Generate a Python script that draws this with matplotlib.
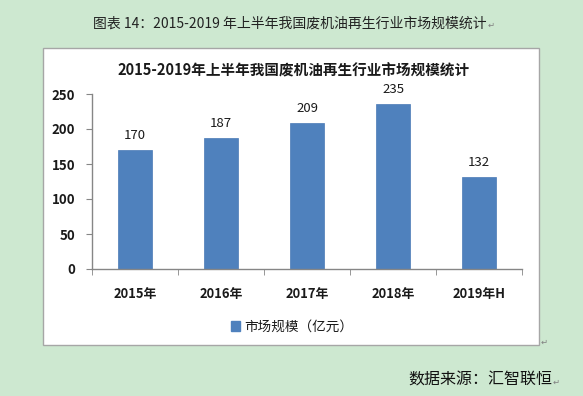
import matplotlib
matplotlib.use("Agg")
import matplotlib.pyplot as plt
from matplotlib.patches import Rectangle, Patch

plt.rcParams['font.family'] = ['Noto Sans CJK SC', 'DejaVu Sans']

categories = ["2015年", "2016年", "2017年", "2018年", "2019年H"]
values = [170, 187, 209, 235, 132]
series_name = "市场规模（亿元）"
chart_title = "2015-2019年上半年我国废机油再生行业市场规模统计"
caption = "图表 14：2015-2019 年上半年我国废机油再生行业市场规模统计"
source = "数据来源：汇智联恒"
yticks = [0, 50, 100, 150, 200, 250]

W, H = 583, 396
fig = plt.figure(figsize=(W / 100, H / 100), dpi=100)
fig.patch.set_facecolor('#cde8d0')

# white chart box
box = Rectangle((43 / W, 1 - 345 / H), 496 / W, 297 / H, transform=fig.transFigure,
                facecolor='white', edgecolor='#a6a6a6', linewidth=1.0, zorder=-5)
fig.patches.append(box)

ax = fig.add_axes([92 / W, 1 - 269 / H, 430 / W, 175 / H])
ax.set_zorder(2)
ax.set_facecolor('white')
x = list(range(len(categories)))
bars = ax.bar(x, values, width=0.4, color='#4f81bd', edgecolor='#4a7ab5', linewidth=0.5, zorder=2)
for xi, v in zip(x, values):
    ax.annotate(str(v), (xi, v), xytext=(0, 10.5), textcoords='offset points',
                ha='center', va='center', fontsize=9.5, color='#1a1a1a')

ax.set_xlim(-0.5, len(categories) - 0.5)
ax.set_ylim(0, 250)
ax.set_yticks(yticks)
ax.set_yticklabels([str(t) for t in yticks], fontsize=9.5, fontweight='bold', color='#1a1a1a')
ax.set_xticks(x)
ax.set_xticklabels(categories, fontsize=9.3, fontweight='bold', color='#1a1a1a')
ax.set_xticks([i - 0.5 for i in range(len(categories) + 1)], minor=True)
ax.tick_params(axis='x', which='major', length=0, pad=13)
ax.tick_params(axis='x', which='minor', length=4, color='#868686', direction='out')
ax.tick_params(axis='y', which='major', length=4, color='#868686', direction='out', pad=8)
for s in ['top', 'right']:
    ax.spines[s].set_visible(False)
for s in ['left', 'bottom']:
    ax.spines[s].set_color('#868686')
    ax.spines[s].set_linewidth(1.0)

fig.text(0.503, 1 - 70 / H, chart_title, ha='center', va='center', fontsize=10.5,
         fontweight='bold', color='#1a1a1a')

fig.legend(handles=[Patch(facecolor='#4f81bd', edgecolor='#4f81bd')], labels=[series_name],
           loc='center', bbox_to_anchor=(292 / W, 1 - 327 / H), frameon=False, fontsize=9.8,
           handlelength=0.7, handleheight=0.7, handletextpad=0.3, labelcolor='#1a1a1a')

fig.text(290 / W, 1 - 24 / H, caption, ha='center', va='center', fontsize=10, color='#222222')
fig.text(488 / W, 1 - 25 / H, "↵", ha='left', va='center', fontsize=6, color='#808080')
fig.text(541 / W, 1 - 342 / H, "↵", ha='left', va='center', fontsize=6, color='#808080')
fig.text(552 / W, 1 - 380 / H, source, ha='right', va='center', fontsize=11.5, color='#111111')
fig.text(553 / W, 1 - 382 / H, "↵", ha='left', va='center', fontsize=6, color='#808080')

fig.savefig('out.png', dpi=100, facecolor=fig.get_facecolor())
